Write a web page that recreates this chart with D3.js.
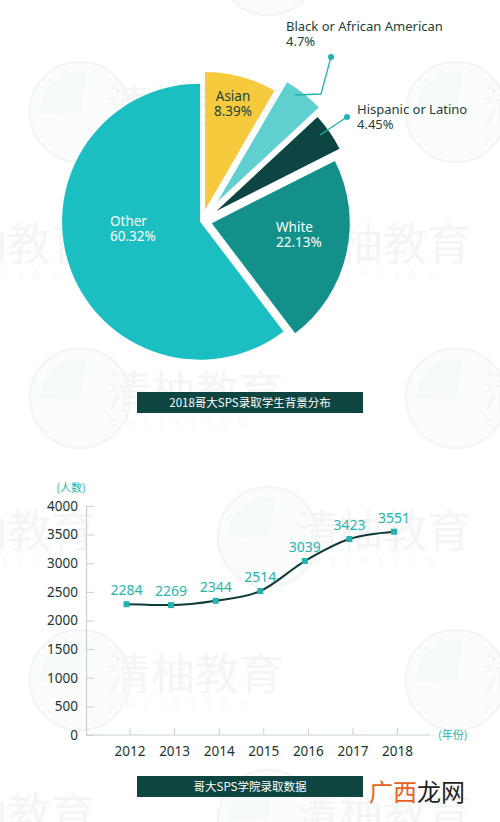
<!DOCTYPE html>
<html>
<head>
<meta charset="utf-8">
<script src="https://cdn.jsdelivr.net/npm/d3@7"></script>
<style>
  html, body { margin: 0; padding: 0; background: #fff; }
  svg { display: block; font-family: "Noto Sans", "Noto Sans CJK SC", sans-serif; }
</style>
</head>
<body>
<svg id="chart" width="500" height="822"></svg>
<script>
// pie data
var groups = ['Asian', 'Black or African American', 'Hispanic or Latino', 'White', 'Other'];
var shares = [8.39, 4.7, 4.45, 22.13, 60.32];
var shareLabels = ['8.39%', '4.7%', '4.45%', '22.13%', '60.32%'];
var pieColors = ['#f5cb3d', '#5fcfd0', '#0c4542', '#14908a', '#1bbfc1'];

// line data
var years = ['2012', '2013', '2014', '2015', '2016', '2017', '2018'];
var admitted = [2284, 2269, 2344, 2514, 3039, 3423, 3551];
var yTicks = [0, 500, 1000, 1500, 2000, 2500, 3000, 3500, 4000];

var pieTitle = '2018哥大SPS录取学生背景分布';
var lineTitle = '哥大SPS学院录取数据';

var svg = d3.select('#chart');
var dark = '#0e4541';
var teal = '#22b3ae';

// faint watermark logos
var marks = svg.append('g').attr('class', 'watermarks');
var logoSpots = [[-108, -35], [268, -35], [80, 112], [456, 112], [-108, 250], [268, 250],
  [80, 398], [456, 398], [-108, 537], [268, 537], [80, 680], [456, 680], [-108, 820], [268, 820]];
logoSpots.forEach(function(p) {
  var g = marks.append('g').attr('transform', 'translate(' + p[0] + ',' + p[1] + ')');
  g.append('circle').attr('r', 50).attr('fill', '#fbfdfd').attr('stroke', '#f4f6f6').attr('stroke-width', 2.5);
  g.append('path')
    .attr('d', d3.arc().innerRadius(0).outerRadius(40)({startAngle: -1.6, endAngle: 0.2}))
    .attr('fill', '#f6fafb');
  g.append('text').attr('x', 27).attr('y', 10)
    .attr('font-size', 44).attr('fill', '#f4f6f6')
    .attr('font-family', '"Noto Sans CJK SC", sans-serif')
    .text('清柚教育');
  g.append('text').attr('x', 30).attr('y', 28)
    .attr('font-size', 9).attr('fill', '#f4f6f6').attr('letter-spacing', 10.5)
    .text('CHEERSYOU');
});

// ---- pie ----
var cx = 202, cy = 221, r = 138;
var explode = [11.5, 25, 17.5, 10, 2];

var pie = d3.pie().sort(null).value(function(d) { return d; });
var arcs = pie(shares);
var arc = d3.arc().innerRadius(0).outerRadius(r);

function shift(d, i) {
  var a = (d.startAngle + d.endAngle) / 2;
  return [Math.sin(a) * explode[i], -Math.cos(a) * explode[i]];
}

var pieG = svg.append('g').attr('transform', 'translate(' + cx + ',' + cy + ')');

pieG.selectAll('path.slice')
  .data(arcs)
  .enter()
  .append('path')
    .attr('class', 'slice')
    .attr('d', arc)
    .attr('fill', function(d, i) { return pieColors[i]; })
    .attr('transform', function(d, i) { return 'translate(' + shift(d, i) + ')'; });

// labels inside slices: [x, y, anchor, color] relative to pie centre
var inside = {
  0: [31, -120, 'middle', '#1d3f3a'],
  3: [74, 11, 'start', '#ffffff'],
  4: [-92, 5, 'start', '#ffffff']
};
Object.keys(inside).forEach(function(k) {
  var p = inside[k];
  var t = pieG.append('text')
    .attr('x', p[0]).attr('y', p[1])
    .attr('text-anchor', p[2])
    .attr('fill', p[3])
    .attr('font-size', 13.5);
  t.append('tspan').attr('x', p[0]).attr('dy', 0).text(groups[k]);
  t.append('tspan').attr('x', p[0]).attr('dy', 15).text(shareLabels[k]);
});

// outside labels with leader lines
var outside = {
  1: {pts: [[93, -126], [119, -127], [129, -164]], text: [84, -190]},
  2: {pts: [[118, -86], [145, -104]], text: [155, -107]}
};
Object.keys(outside).forEach(function(k) {
  var o = outside[k];
  pieG.append('path')
    .attr('d', d3.line()(o.pts))
    .attr('fill', 'none')
    .attr('stroke', teal)
    .attr('stroke-width', 1.3);
  var end = o.pts[o.pts.length - 1];
  pieG.append('circle').attr('cx', end[0]).attr('cy', end[1]).attr('r', 3).attr('fill', teal);
  var t = pieG.append('text')
    .attr('x', o.text[0]).attr('y', o.text[1])
    .attr('fill', '#1d3f3a')
    .attr('font-size', 13);
  t.append('tspan').attr('x', o.text[0]).attr('dy', 0).text(groups[k]);
  t.append('tspan').attr('x', o.text[0]).attr('dy', 15).text(shareLabels[k]);
});

// title bars
function titleBar(y, label) {
  svg.append('rect')
    .attr('x', 137).attr('y', y)
    .attr('width', 226).attr('height', 21)
    .attr('fill', dark);
  svg.append('text')
    .attr('x', 250).attr('y', y + 15)
    .attr('text-anchor', 'middle')
    .attr('fill', '#fff')
    .attr('font-size', 11.5)
    .attr('font-family', '"Noto Sans CJK SC", sans-serif')
    .text(label);
}
titleBar(392, pieTitle);

// ---- line chart ----
var y = d3.scaleLinear()
  .domain([0, 4000])
  .range([735, 506]);

var x = d3.scalePoint()
  .domain(years)
  .range([129.5, 397]);

var pointShift = -3;

var axisColor = '#c9d0cf';

var yAxis = svg.append('g')
  .attr('transform', 'translate(86,0)')
  .call(d3.axisLeft(y).tickValues(yTicks).tickFormat(d3.format('d'))
    .tickSizeInner(-8).tickSizeOuter(0).tickPadding(8));

yAxis.select('.domain').attr('stroke', axisColor).attr('stroke-width', 1.2);
yAxis.selectAll('.tick line').attr('stroke', axisColor);
yAxis.selectAll('.tick text')
  .attr('fill', '#1c3532')
  .attr('font-size', 13.5)
  .attr('font-family', '"Noto Sans", sans-serif');

svg.append('line')
  .attr('x1', 86).attr('x2', 430)
  .attr('y1', 735).attr('y2', 735)
  .attr('stroke', axisColor)
  .attr('stroke-width', 1.2);

var xAxis = svg.append('g')
  .attr('transform', 'translate(0,735)')
  .call(d3.axisBottom(x).tickSizeInner(-7).tickSizeOuter(0).tickPadding(11));

xAxis.select('.domain').remove();
xAxis.selectAll('.tick line').attr('stroke', axisColor);
xAxis.selectAll('.tick text')
  .attr('fill', '#1c3532')
  .attr('font-size', 13.5)
  .attr('font-family', '"Noto Sans", sans-serif');

svg.append('text')
  .attr('x', 71).attr('y', 492)
  .attr('text-anchor', 'middle')
  .attr('fill', teal)
  .attr('font-size', 11)
  .attr('font-family', '"Noto Sans CJK SC", sans-serif')
  .text('(人数)');

svg.append('text')
  .attr('x', 438).attr('y', 739)
  .attr('fill', teal)
  .attr('font-size', 11)
  .attr('font-family', '"Noto Sans CJK SC", sans-serif')
  .text('(年份)');

var line = d3.line()
  .x(function(d, i) { return x(years[i]) + pointShift; })
  .y(function(d) { return y(d); })
  .curve(d3.curveMonotoneX);

svg.append('path')
  .datum(admitted)
  .attr('d', line)
  .attr('fill', 'none')
  .attr('stroke', '#0f3a36')
  .attr('stroke-width', 2);

svg.selectAll('rect.pt')
  .data(admitted)
  .enter()
  .append('rect')
    .attr('class', 'pt')
    .attr('x', function(d, i) { return x(years[i]) + pointShift - 3; })
    .attr('y', function(d) { return y(d) - 3; })
    .attr('width', 6)
    .attr('height', 6)
    .attr('fill', teal);

svg.selectAll('text.val')
  .data(admitted)
  .enter()
  .append('text')
    .attr('class', 'val')
    .attr('x', function(d, i) { return x(years[i]) + pointShift; })
    .attr('y', function(d) { return y(d) - 9; })
    .attr('text-anchor', 'middle')
    .attr('fill', '#27b4ae')
    .attr('font-size', 14)
    .text(function(d) { return d; });

titleBar(776, lineTitle);

// site stamp, bottom right
var stamp = svg.append('text')
  .attr('x', 369).attr('y', 801)
  .attr('font-size', 24)
  .attr('font-family', '"Noto Sans CJK SC", sans-serif');
stamp.append('tspan').attr('fill', '#e8601c').text('广西');
stamp.append('tspan').attr('fill', '#222').text('龙网');
</script>
</body>
</html>
